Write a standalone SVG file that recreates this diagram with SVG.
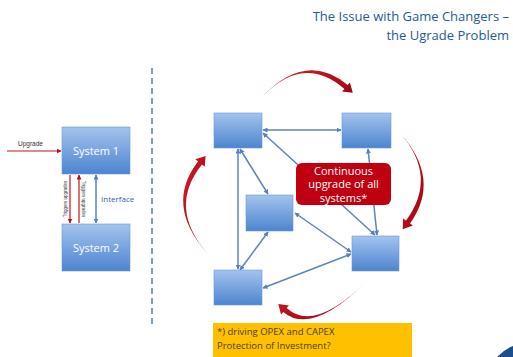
<svg xmlns="http://www.w3.org/2000/svg" width="513" height="357" viewBox="0 0 513 357">
<defs>
<linearGradient id="bg" x1="0" y1="0" x2="0" y2="1">
<stop offset="0" stop-color="#A3C4EE"/>
<stop offset="1" stop-color="#4D84CF"/>
</linearGradient>
<linearGradient id="rg" x1="0" y1="0" x2="1" y2="1">
<stop offset="0" stop-color="#D0202A"/>
<stop offset="1" stop-color="#A00010"/>
</linearGradient>
<marker id="ab" viewBox="0 0 10 10" refX="9" refY="5" markerWidth="5" markerHeight="5" orient="auto-start-reverse" markerUnits="userSpaceOnUse">
<path d="M0,0 L10,5 L0,10 z" fill="#5580BB"/>
</marker>
<marker id="ar" viewBox="0 0 10 10" refX="9" refY="5" markerWidth="5" markerHeight="5" orient="auto-start-reverse" markerUnits="userSpaceOnUse">
<path d="M0,0 L10,5 L0,10 z" fill="#C0101A"/>
</marker>
<style>
.box{fill:url(#bg);stroke:#6E97CF;stroke-width:0.6}
.con{stroke:#5A84BE;stroke-width:1.5;fill:none;marker-start:url(#ab);marker-end:url(#ab)}
.red{stroke:#C8101A;stroke-width:1.2;fill:none;marker-end:url(#ar)}
.curv{fill:url(#rg)}
.sys{font-family:"Open Sans","Liberation Sans",sans-serif;font-size:11px;fill:#FFFFFF;text-anchor:middle}
.small{font-family:"Liberation Sans",sans-serif;fill:#333333}
.title{font-family:"Open Sans","Liberation Sans",sans-serif;font-size:13px;fill:#1F5A9A;text-anchor:end}
</style>
</defs>
<rect width="513" height="357" fill="#FFFFFF"/>
<g id="title">
<text class="title" x="509" y="21">The Issue with Game Changers –</text>
<text class="title" x="509" y="40">the Ugrade Problem</text>
</g>
<line id="divider" x1="152" y1="68" x2="152" y2="328" stroke="#4F7FC0" stroke-width="1.5" stroke-dasharray="6 4"/>
<g id="connectors">
<line x1="7" y1="151" x2="61" y2="151" class="red"/>
<line x1="70" y1="175" x2="70" y2="223" class="red"/>
<line x1="79" y1="223" x2="79" y2="175" class="red"/>
<line x1="96" y1="175" x2="96" y2="223" class="con" stroke-width="1.2"/>
<line x1="263" y1="130" x2="341" y2="130" class="con"/>
<line x1="263" y1="133" x2="375" y2="235" class="con"/>
<line x1="368" y1="149" x2="377" y2="235" class="con"/>
<line x1="238" y1="149" x2="238" y2="269" class="con"/>
<line x1="240" y1="149" x2="268" y2="194" class="con"/>
<line x1="268" y1="232" x2="240" y2="270" class="con"/>
<line x1="295" y1="213" x2="351" y2="252" class="con"/>
<line x1="351" y1="254" x2="263" y2="288" class="con"/>
<path class="curv" d="M262,97 Q303.7,53.5 344.4,88.9 L342.1,91.6 L352.8,92.8 L349.9,82.4 L347.6,85.1 Q306.3,50.5 262,97 Z"/>
<path class="curv" d="M400,133 Q438.4,176.8 406,220.5 L403.1,218.5 L402.7,229.3 L412.9,225.5 L410,223.5 Q441.6,179.2 400,133 Z"/>
<path class="curv" d="M368,280 Q314.3,333.5 286.7,308.1 L289,305.5 L278.3,304 L281,314.5 L283.3,311.9 Q311.7,336.5 368,280 Z"/>
<path class="curv" d="M207,253 Q167.6,207.2 202,164.5 L204.7,166.7 L205.6,155.9 L195.3,159.3 L198,161.5 Q164.4,204.8 207,253 Z"/>
</g>
<g id="upgrade-label"><text class="small" x="18" y="146" font-size="6.5">Upgrade</text></g>
<g id="trigger-labels">
<text class="small" font-size="4.5" text-anchor="middle" transform="translate(67,199) rotate(-90)">Triggers upgrades</text>
<text class="small" font-size="4.5" text-anchor="middle" transform="translate(82,199) rotate(90)">Triggers upgrades</text>
</g>
<g id="interface-label"><text x="101" y="202" font-family="Open Sans,Liberation Sans,sans-serif" font-size="8" fill="#2F5FA8">Interface</text></g>
<g id="system1"><rect class="box" x="62" y="127" width="68" height="47"/><text class="sys" x="96" y="155">System 1</text></g>
<g id="system2"><rect class="box" x="62" y="224" width="68" height="47"/><text class="sys" x="96" y="252">System 2</text></g>
<g id="n-tl"><rect class="box" x="214" y="113" width="48" height="35"/></g>
<g id="n-tr"><rect class="box" x="342" y="113" width="49" height="35"/></g>
<g id="n-mid"><rect class="box" x="246" y="195" width="47" height="36"/></g>
<g id="n-br"><rect class="box" x="352" y="236" width="47" height="35"/></g>
<g id="n-bl"><rect class="box" x="214" y="270" width="48" height="35"/></g>
<g id="upgrade-box">
<rect x="296" y="163" width="95" height="42" rx="6" fill="#C00010"/>
<text class="sys" x="343.5" y="174.5" font-size="10">Continuous</text>
<text class="sys" x="343.5" y="188" font-size="10">upgrade of all</text>
<text class="sys" x="343.5" y="201.5" font-size="10">systems*</text>
</g>
<g id="note">
<rect x="213" y="323" width="199" height="34" fill="#FFC000"/>
<text x="217" y="335" font-family="Open Sans,Liberation Sans,sans-serif" font-size="9.5" fill="#4A4020">*) driving OPEX and CAPEX</text>
<text x="217" y="349" font-family="Open Sans,Liberation Sans,sans-serif" font-size="9.5" fill="#4A4020">Protection of Investment?</text>
</g>
<path id="swoosh" d="M497,357 Q505,349 513,346 L513,357 Z" fill="#1F4E8C"/>
</svg>
